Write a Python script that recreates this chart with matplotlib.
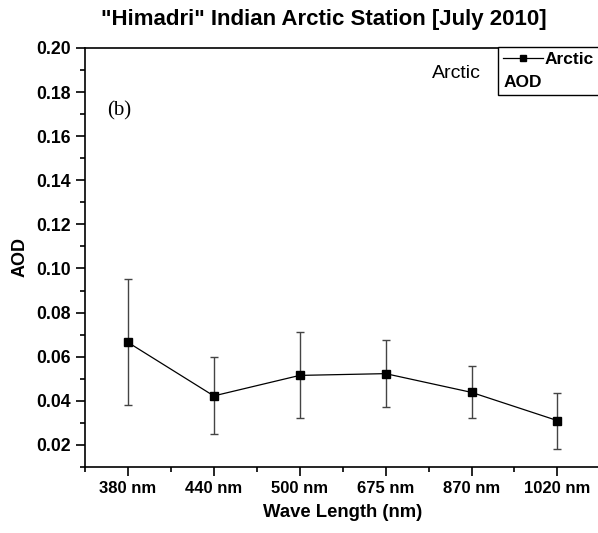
import numpy as np
import matplotlib.pyplot as plt
from matplotlib.ticker import MultipleLocator

plt.rcParams['font.family'] = ['Liberation Sans', 'DejaVu Sans']

wavelengths = ['380 nm', '440 nm', '500 nm', '675 nm', '870 nm', '1020 nm']
aod = np.array([0.0665, 0.0422, 0.0515, 0.0523, 0.0438, 0.0310])
aod_err = np.array([0.0285, 0.0175, 0.0195, 0.0152, 0.0118, 0.0127])

x = np.arange(1, len(wavelengths) + 1)

fig = plt.figure(figsize=(5.98, 5.33), dpi=100)
ax = fig.add_axes([0.142, 0.124, 0.862, 0.786])

ax.errorbar(x, aod, yerr=aod_err, fmt='none', ecolor='#444444', elinewidth=1.0,
            capsize=3, capthick=1.0, zorder=2)
line, = ax.plot(x, aod, color='black', lw=0.9, marker='s', ms=6, zorder=3)

ax.set_xlim(0.5, 6.5)
ax.set_ylim(0.01, 0.20)
ax.set_xticks(x)
ax.set_xticklabels(wavelengths)
ax.xaxis.set_minor_locator(MultipleLocator(1, offset=0.5))
ax.yaxis.set_major_locator(MultipleLocator(0.02))
ax.yaxis.set_minor_locator(MultipleLocator(0.01))
ax.yaxis.set_major_formatter(plt.FormatStrFormatter('%.2f'))
ax.tick_params(which='major', direction='out', length=6.5, width=1.2, pad=3.5)
ax.tick_params(axis='x', which='major', labelsize=12)
ax.tick_params(axis='y', which='major', labelsize=12.7)
ax.tick_params(which='minor', direction='out', length=3.5, width=1.2)
for t in ax.get_xticklabels() + ax.get_yticklabels():
    t.set_fontweight('bold')
for s in ax.spines.values():
    s.set_linewidth(1.2)
ax.spines['right'].set_visible(False)

ax.set_xlabel('Wave Length (nm)', fontsize=13.3, fontweight='bold', labelpad=6)
ax.set_ylabel('AOD', fontsize=13, fontweight='bold', labelpad=6)
fig.text(0.542, 0.963, '"Himadri" Indian Arctic Station [July 2010]',
         ha='center', va='center', fontsize=16, fontweight='bold')

ax.text(0.72, 0.94, 'Arctic', transform=ax.transAxes, ha='center', va='center',
        fontsize=14)
ax.text(0.043, 0.85, '(b)', transform=ax.transAxes, ha='left', va='center',
        fontsize=15, family='Liberation Serif')

leg = ax.legend([line], ['Arctic'], title='AOD', loc='upper left',
                bbox_to_anchor=(498 / 598, 1 - 47 / 533),
                bbox_transform=fig.transFigure, fancybox=False,
                edgecolor='black', framealpha=1, borderaxespad=0,
                borderpad=0.3, handlelength=2.3, handletextpad=0.1,
                markerscale=0.8, labelspacing=0.45, alignment='left',
                prop={'weight': 'bold', 'size': 12.5},
                title_fontproperties={'weight': 'bold', 'size': 12.5})
leg.get_frame().set_linewidth(1.0)
leg._legend_box._children = leg._legend_box._children[::-1]

fig.savefig('out.png', dpi=100)
